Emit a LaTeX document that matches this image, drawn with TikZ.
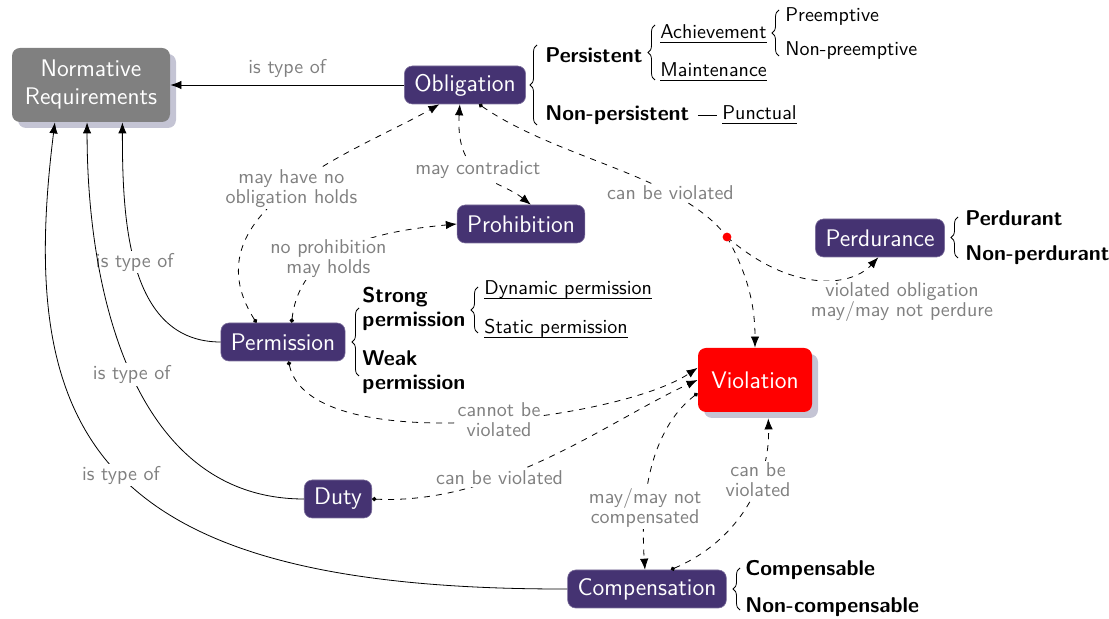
\documentclass[tikz,border=0pt]{standalone}
\usetikzlibrary{arrows.meta,decorations.pathreplacing,shadows}
\renewcommand{\familydefault}{\sfdefault}
\definecolor{npurple}{RGB}{69,51,114}
\definecolor{nshadow}{RGB}{196,196,212}
\definecolor{lblgray}{RGB}{128,128,128}
\begin{document}
\begin{tikzpicture}[x=0.5pt,y=-0.5pt,
  box/.style={rounded corners=4pt, fill=npurple, draw=npurple!70!white, line width=0.3pt,
    text=white, font=\large, inner xsep=5pt, minimum height=19pt},
  gbox/.style={rounded corners=4pt, fill=gray, text=white, font=\large, align=center,
    minimum width=79pt, minimum height=37pt,
    drop shadow={shadow xshift=3pt, shadow yshift=-3pt, fill=nshadow, opacity=1}},
  vbox/.style={rounded corners=4pt, fill=red, text=white, font=\large,
    minimum width=57pt, minimum height=32pt,
    drop shadow={shadow xshift=3pt, shadow yshift=-3pt, fill=nshadow, opacity=1}},
  lbl/.style={text=lblgray, fill=white, inner sep=1pt, align=center,
    font=\fontsize{10}{10}\selectfont},
  bt/.style={anchor=west, inner sep=0pt, font=\fontsize{10.7}{12}\selectfont\bfseries, align=left},
  pt/.style={anchor=west, inner sep=0pt},
  ul/.style={anchor=south west, inner xsep=0pt, inner ysep=0pt, text depth=1.5pt},
  brc/.style={decorate, decoration={brace, amplitude=3.5pt}},
  sol/.style={-{Latex[length=5.5pt,width=4.2pt]}},
  dsh/.style={dashed, {Circle[length=2.2pt]}-{Latex[length=5.5pt,width=4.2pt]}},
  dd/.style={dashed, {Latex[length=5.5pt,width=4.2pt]}-{Latex[length=5.5pt,width=4.2pt]}},
  dto/.style={dashed, -{Latex[length=5.5pt,width=4.2pt]}},
  dfrom/.style={dashed, {Circle[length=2.2pt]}-}]
\useasboundingbox (0,0) rectangle (1109,619);

% main nodes
\node[gbox] (norm) at (91,85) {Normative\\Requirements};
\node[box] (obl) at (465,85) {Obligation};
\node[box] (proh) at (521,224) {Prohibition};
\node[box] (perm) at (283,342) {Permission};
\node[box] (perd) at (880,238) {Perdurance};
\node[vbox] (viol) at (755,380) {Violation};
\node[box] (duty) at (338,499) {Duty};
\node[box] (comp) at (647,589) {Compensation};

% obligation classification
\draw[brc] (537,125) -- (537,45);
\node[bt] (pers) at (545,55) {Persistent};
\node[bt] (npers) at (545,115) {Non-persistent};
\draw[brc] (655,80) -- (655,25);
\node[ul, minimum width=52.5pt] (ach) at (660,42) {Achievement};
\node[ul, minimum width=52.5pt] (mai) at (660,80) {Maintenance};
\draw (ach.south west) -- (ach.south east);
\draw (mai.south west) -- (mai.south east);
\draw[brc] (779,56) -- (779,10);
\node[pt] (pre) at (785,17) {Preemptive};
\node[pt] (npre) at (785,51) {Non-preemptive};
\node[ul] (punc) at (722,123) {Punctual};
\draw (punc.south west) -- (punc.south east);
\draw ([xshift=4pt]npers.east) -- ([xshift=-2.5pt]punc.west |- npers.east);

% permission classification
\draw[brc] (359,376) -- (359,308);
\node[bt] (strong) at (362,309) {Strong\\permission};
\node[bt] (weak) at (362,372) {Weak\\permission};
\draw[brc] (478,333) -- (478,287);
\node[ul] (dyn) at (484,298) {Dynamic permission};
\node[ul] (sta) at (484,337) {Static permission};
\draw (dyn.south west) -- (dyn.south east);
\draw (sta.south west) -- (sta.south east);

% perdurance classification
\draw[brc] (958,258) -- (958,217);
\node[bt] (perdt) at (965,218) {Perdurant};
\node[bt] (nperdt) at (965,255) {Non-perdurant};

% compensation classification
\draw[brc] (740,610) -- (740,568);
\node[bt] (compb) at (745,570) {Compensable};
\node[bt] (ncompb) at (745,607) {Non-compensable};

% is type of
\draw[sol] (obl.west) -- node[above, text=lblgray, font=\fontsize{10}{10}\selectfont] {is type of} (norm.east);
\draw[sol] (perm.west) to[out=180,in=-90] node[lbl,pos=0.52] {is type of} (norm.-50);
\draw[sol] (duty.west) to[out=180,in=-90] node[lbl,pos=0.5] {is type of} (norm.-96);
\draw[sol] (comp.west) .. controls (100,590) and (15,440) .. node[lbl,pos=0.5] {is type of} (norm.-134);

% dashed relations
\draw[dsh] (perm.144) .. controls (185,210) and (360,150) .. node[lbl,pos=0.5] {may have no\\obligation holds} (obl.-143);
\draw[dd] (obl.-105) .. controls (455,180) and (500,180) .. node[lbl,pos=0.45] {may contradict} (proh.63);
\draw[dsh] (perm.66) .. controls (300,250) and (370,232) .. node[lbl,pos=0.4] {no prohibition\\may holds} (proh.west);

\coordinate (rd) at (727,237);
\draw[dfrom] (obl.-54) .. controls (560,160) and (680,175) .. node[lbl,pos=0.71] {can be violated} (rd);
\draw[dto] (rd) .. controls (745,270) and (755,300) .. (viol.north);
\draw[dto] (rd) .. controls (790,292) and (850,288) .. (perd.-95);
\fill[red] (rd) circle (2.2pt);
\node[lbl] (lperd) at (902,302) {violated obligation\\may/may not perdure};

\draw[dsh] (perm.-74) .. controls (310,460) and (620,420) .. node[lbl,pos=0.55] {cannot be\\violated} (viol.168);
\draw[dsh] (duty.east) .. controls (500,505) and (610,420) .. node[lbl,pos=0.35] {can be violated} (viol.west);
\draw[dsh] (viol.-167) .. controls (650,430) and (640,500) .. node[lbl,pos=0.7] {may/may not\\compensated} (comp.96);
\draw[dsh, shorten >=3pt] (comp.39) .. controls (740,540) and (770,480) .. node[lbl,pos=0.65] {can be\\violated} (viol.-68);
\end{tikzpicture}
\end{document}
